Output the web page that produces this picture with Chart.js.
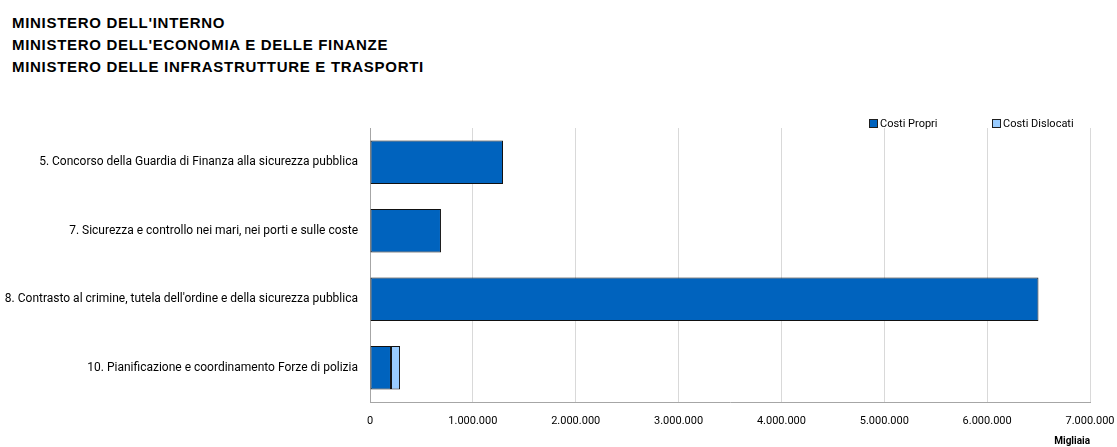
<!DOCTYPE html>
<html lang="it">
<head>
<meta charset="UTF-8">
<title>Costi per programma</title>
<script src="https://cdn.jsdelivr.net/npm/chart.js"></script>
<style>
    body {
        margin: 0;
        padding: 0;
        background: #ffffff;
    }
    .page {
        width: 1117px;
        height: 447px;
        position: relative;
        overflow: hidden;
    }
    .header {
        position: absolute;
        left: 12px;
        top: 12px;
        font-family: 'Liberation Sans', Arial, sans-serif;
        font-weight: bold;
        font-size: 15px;
        letter-spacing: 0.7px;
        line-height: 22px;
        color: #000;
    }
    .legend {
        position: absolute;
        top: 117px;
        left: 869px;
        font-family: 'Roboto', sans-serif;
        font-size: 11px;
        color: #000;
    }
    .legend span.item {
        position: absolute;
        white-space: nowrap;
        top: 0;
    }
    .legend .box {
        display: inline-block;
        width: 7px;
        height: 7px;
        border: 1px solid #1f1f1f;
        margin-right: 2px;
        vertical-align: -1px;
    }
    .chart-box {
        position: absolute;
        left: 0;
        top: 0;
        width: 1117px;
        height: 447px;
    }
</style>
</head>
<body>
<div class="page">
    <div class="header">
        MINISTERO DELL'INTERNO<br>
        MINISTERO DELL'ECONOMIA E DELLE FINANZE<br>
        MINISTERO DELLE INFRASTRUTTURE E TRASPORTI
    </div>
    <div class="chart-box"><canvas id="chart"></canvas></div>
    <div class="legend" id="legend"></div>
</div>

<script>
// categorie (dall'alto verso il basso)
const categories = [
    '5. Concorso della Guardia di Finanza alla sicurezza pubblica',
    '7. Sicurezza e controllo nei mari, nei porti e sulle coste',
    "8. Contrasto al crimine, tutela dell'ordine e della sicurezza pubblica",
    '10. Pianificazione e coordinamento Forze di polizia'
];
// valori in migliaia di euro
const costiPropri = [1293000, 690000, 6499000, 204000];
const costiDislocati = [0, 0, 0, 88000];
const seriesNames = ['Costi Propri', 'Costi Dislocati'];
const seriesColors = ['#0063BE', '#99CCFF'];
const xTicks = [0, 1000000, 2000000, 3000000, 4000000, 5000000, 6000000, 7000000];

const labelFont = "'Roboto', sans-serif";

function fmt(v) {
    return Number(v).toLocaleString('de-DE');
}

// legenda html
const legendEl = document.getElementById('legend');
seriesNames.forEach(function (name, i) {
    const it = document.createElement('span');
    it.className = 'item';
    it.style.left = (i * 123) + 'px';
    it.innerHTML = '<span class="box" style="background:' + seriesColors[i] + '"></span>' + name;
    legendEl.appendChild(it);
});

const ctx = document.getElementById('chart').getContext('2d');
new Chart(ctx, {
    type: 'bar',
    data: {
        labels: categories,
        datasets: [
            {
                label: seriesNames[0],
                data: costiPropri,
                backgroundColor: seriesColors[0],
                borderColor: '#111111',
                borderWidth: 1,
                borderSkipped: false,
                categoryPercentage: 0.8,
                barPercentage: 0.79
            },
            {
                label: seriesNames[1],
                data: costiDislocati,
                backgroundColor: seriesColors[1],
                borderColor: '#111111',
                borderWidth: 1,
                borderSkipped: false,
                categoryPercentage: 0.8,
                barPercentage: 0.79
            }
        ]
    },
    options: {
        indexAxis: 'y',
        responsive: true,
        maintainAspectRatio: false,
        animation: false,
        layout: {
            padding: { top: 128, right: 27, left: 0, bottom: 0 }
        },
        plugins: {
            legend: { display: false },
            tooltip: { enabled: false }
        },
        scales: {
            x: {
                stacked: true,
                min: 0,
                max: 7000000,
                afterBuildTicks: function (axis) {
                    axis.ticks = xTicks.map(function (v) { return { value: v }; });
                },
                afterFit: function (axis) {
                    axis.height = 45;
                    // l'ultima etichetta può uscire dal bordo come nell'originale
                    axis.paddingLeft = 0;
                    axis.paddingRight = 0;
                },
                grid: {
                    color: '#d9d9d9',
                    drawTicks: false
                },
                border: { color: '#a6a6a6', width: 1 },
                ticks: {
                    padding: 13,
                    color: '#000',
                    font: { family: labelFont, size: 11 },
                    maxRotation: 0,
                    callback: function (v) { return fmt(v); }
                },
                title: {
                    display: true,
                    text: 'Migliaia',
                    align: 'end',
                    color: '#000',
                    font: { family: labelFont, size: 10, weight: 'bold' },
                    padding: { top: 2, bottom: 0 }
                }
            },
            y: {
                stacked: true,
                afterFit: function (axis) { axis.width = 370; },
                grid: { display: false, drawTicks: false },
                border: { color: '#a6a6a6', width: 1 },
                ticks: {
                    padding: 12,
                    color: '#000',
                    font: { family: labelFont, size: 12 }
                }
            }
        }
    }
});
</script>
</body>
</html>
